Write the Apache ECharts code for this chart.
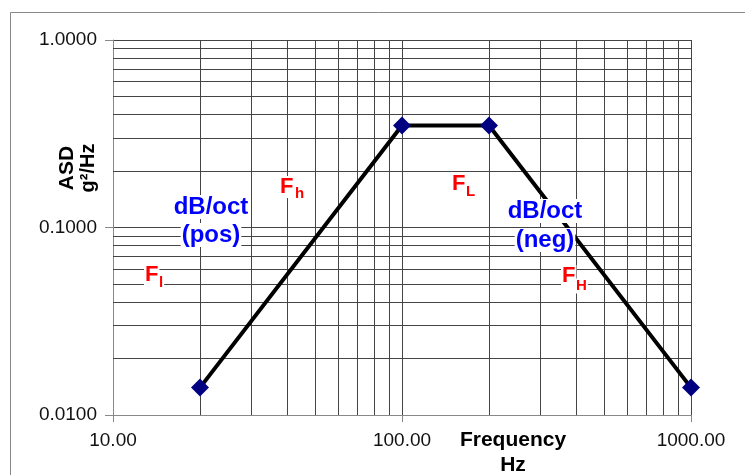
<!DOCTYPE html>
<html>
<head>
<meta charset="utf-8">
<script src="https://cdn.jsdelivr.net/npm/echarts@6/dist/echarts.min.js"></script>
<style>html,body{margin:0;padding:0;background:#fff}#c{width:745px;height:475px}</style>
</head>
<body>
<div id="c"></div>
<script>
// Data
const freq = [20, 100, 200, 1000];
const asd = [0.014, 0.35, 0.35, 0.014];
const xMinorGrid = [20, 30, 40, 50, 60, 70, 80, 90, 200, 300, 400, 500, 600, 700, 800, 900];
const yMinorGrid = [0.02, 0.03, 0.04, 0.05, 0.06, 0.07, 0.08, 0.09, 0.2, 0.3, 0.4, 0.5, 0.6, 0.7, 0.8, 0.9];
const xRange = [10, 1000];
const yRange = [0.01, 1];

const chart = echarts.init(document.getElementById('c'), null, {renderer: 'canvas'});
const FONT = 'Liberation Sans, Arial, sans-serif';
const gridColor = '#444';

const gridLines = xMinorGrid.map(v => ({xAxis: v})).concat(yMinorGrid.map(v => ({yAxis: v})));

function label(x, y, text, font, fill, align) {
  return {type: 'text', x: x, y: y, z: 100,
    style: {text: text, font: font, fill: fill, align: align || 'center', verticalAlign: 'middle',
      backgroundColor: '#fff', padding: [0, 1]}};
}
const blueFont = 'bold 24px ' + FONT;
const redBig = 'bold 22px ' + FONT;
const redSub = 'bold 15px ' + FONT;
const RED = '#ff0000', BLUE = '#0000ff';

const option = {
  animation: false,
  backgroundColor: '#fff',
  grid: {left: 113, right: 54, top: 40, bottom: 60, containLabel: false},
  xAxis: {
    type: 'log', logBase: 10, min: xRange[0], max: xRange[1],
    axisLine: {show: true, lineStyle: {color: '#888', width: 1}},
    axisTick: {show: true, inside: false, length: 7, lineStyle: {color: '#888'}},
    axisLabel: {margin: 16, color: '#111', fontFamily: FONT, fontSize: 19,
      formatter: v => Number(v).toFixed(2)},
    splitLine: {show: true, lineStyle: {color: gridColor, width: 1}}
  },
  yAxis: {
    type: 'log', logBase: 10, min: yRange[0], max: yRange[1],
    axisLine: {show: true, lineStyle: {color: '#888', width: 1}},
    axisTick: {show: true, inside: false, length: 8, lineStyle: {color: '#888'}},
    axisLabel: {margin: 16, color: '#111', fontFamily: FONT, fontSize: 19,
      formatter: v => Number(v).toFixed(4)},
    splitLine: {show: true, lineStyle: {color: gridColor, width: 1}}
  },
  series: [
    {
      type: 'line', data: [], z: 1, silent: true,
      markLine: {
        silent: true, symbol: ['none', 'none'], animation: false,
        label: {show: false},
        lineStyle: {color: gridColor, width: 1, type: 'solid'},
        emphasis: {disabled: true},
        data: gridLines
      }
    },
    {
      type: 'line', z: 5,
      data: freq.map((f, i) => [f, asd[i]]),
      lineStyle: {color: '#000', width: 4},
      symbol: 'diamond', symbolSize: 18,
      itemStyle: {color: '#000080'},
      showAllSymbol: true
    }
  ],
  graphic: [
    {type: 'rect', shape: {x: 10.5, y: 12.5, width: 800, height: 500}, style: {fill: 'none', stroke: '#888', lineWidth: 1}, z: -1},
    {type: 'text', x: 67, y: 168, rotation: Math.PI / 2, style: {text: 'ASD', font: 'bold 21px ' + FONT, fill: '#000', align: 'center', verticalAlign: 'middle'}},
    {type: 'text', x: 88, y: 168, rotation: Math.PI / 2, style: {text: 'g²/Hz', font: 'bold 20px ' + FONT, fill: '#000', align: 'center', verticalAlign: 'middle'}},
    {type: 'text', x: 513, y: 440, style: {text: 'Frequency', font: 'bold 21px ' + FONT, fill: '#000', align: 'center', verticalAlign: 'middle'}},
    {type: 'text', x: 513, y: 465, style: {text: 'Hz', font: 'bold 21px ' + FONT, fill: '#000', align: 'center', verticalAlign: 'middle'}},
    label(211, 207, 'dB/oct', blueFont, BLUE),
    label(211, 235, '(pos)', blueFont, BLUE),
    label(545, 211, 'dB/oct', blueFont, BLUE),
    label(545, 240, '(neg)', blueFont, BLUE),
    label(279, 187, 'F', redBig, RED, 'left'),
    label(294, 194, 'h', redSub, RED, 'left'),
    label(144, 275, 'F', redBig, RED, 'left'),
    label(158, 283, 'l', redSub, RED, 'left'),
    label(451, 184, 'F', redBig, RED, 'left'),
    label(465, 192, 'L', redSub, RED, 'left'),
    label(561, 276, 'F', redBig, RED, 'left'),
    label(575, 286, 'H', redSub, RED, 'left')
  ]
};
chart.setOption(option);
</script>
</body>
</html>
